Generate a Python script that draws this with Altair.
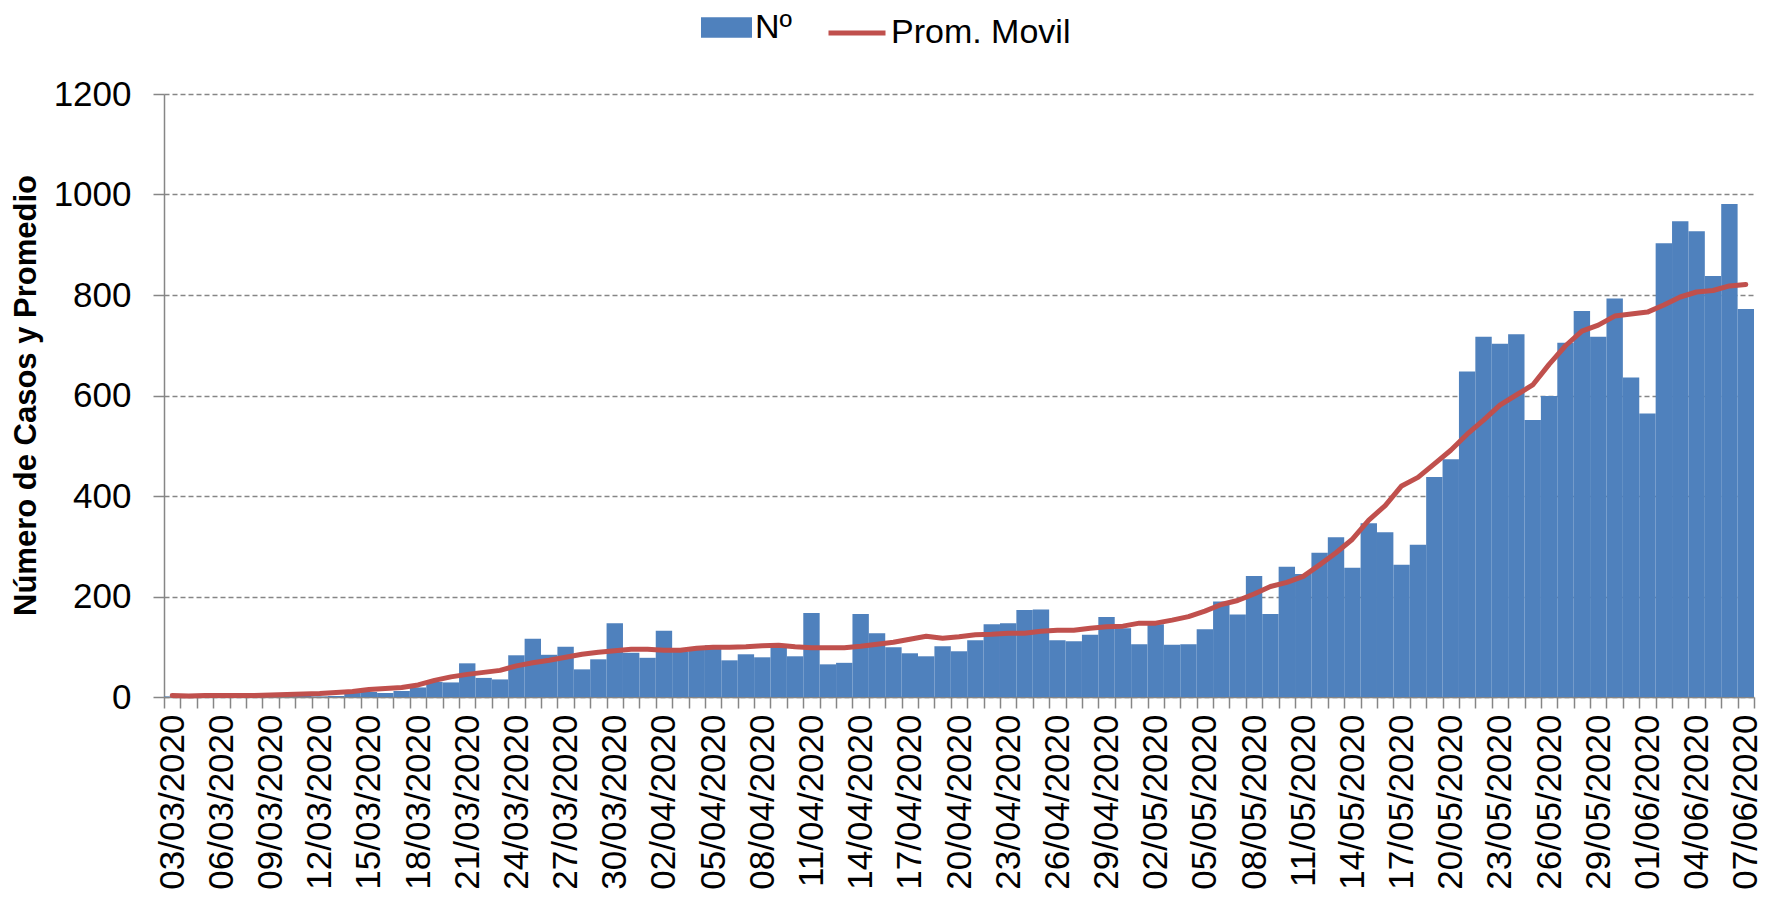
import json
import altair as alt
import pandas as pd

# ---- data ----
fechas = [d.strftime("%d/%m/%Y") for d in pd.date_range("2020-03-03", "2020-06-07", freq="D")]

casos = [1, 0, 0, 2, 0, 1, 1, 2, 3, 1,
         2, 8, 10, 8, 12, 19, 30, 29, 67, 38,
         35, 83, 116, 84, 100, 55, 75, 147, 88, 78,
         132, 90, 95, 103, 73, 85, 79, 103, 81, 167,
         65, 68, 165, 127, 99, 87, 81, 101, 91, 113,
         145, 147, 173, 174, 113, 111, 124, 159, 137, 105,
         145, 104, 105, 135, 190, 164, 241, 165, 259, 245,
         287, 318, 257, 346, 328, 263, 303, 438, 473, 648,
         717, 703, 722, 551, 599, 705, 768, 717, 793, 636,
         564, 903, 947, 927, 838, 981, 772]

prom_movil = [3, 2, 3, 3, 3, 3, 4, 5, 6, 7,
              9, 11, 15, 17, 19, 24, 33, 40, 45, 49,
              53, 62, 68, 73, 79, 85, 89, 92, 95, 95,
              93, 93, 97, 99, 99, 100, 102, 103, 100, 98,
              98, 98, 101, 105, 109, 115, 121, 117, 120, 124,
              125, 127, 127, 131, 133, 133, 137, 140, 141, 147,
              147, 153, 160, 171, 184, 192, 205, 220, 228, 240,
              263, 287, 314, 352, 381, 420, 437, 464, 491, 523,
              551, 581, 601, 621, 662, 699, 728, 740, 758, 762,
              766, 780, 796, 806, 809, 818, 821]

etiquetas_x = fechas[::3]
y_ticks = [0, 200, 400, 600, 800, 1000, 1200]
serie_barras = "Nº"
serie_linea = "Prom. Movil"
color_barras = "#4F81BD"
color_linea = "#C0504D"

df = pd.DataFrame({"fecha": fechas, "casos": casos, "prom": prom_movil})

FONT = "Liberation Sans"
GRAY = "#868686"

label_expr = "indexof(" + json.dumps(etiquetas_x) + ", datum.value) >= 0 ? datum.label : ''"

x_enc = alt.X(
    "fecha:N",
    sort=None,
    scale=alt.Scale(paddingInner=0, paddingOuter=0),
    axis=alt.Axis(
        title=None,
        labelAngle=270,
        labelExpr=label_expr,
        labelOverlap=False,
        labelFont=FONT,
        labelFontSize=35,
        labelColor="black",
        labelPadding=6,
        labelLimit=400,
        tickBand="extent",
        tickSize=11,
        tickColor=GRAY,
        tickWidth=1.5,
        domainColor=GRAY,
        domainWidth=1.5,
        grid=False,
    ),
)

y_scale = alt.Scale(domain=[0, 1200], nice=False)
y_axis = alt.Axis(
    title="Número de Casos y Promedio",
    values=y_ticks,
    format="d",
    labelFont=FONT,
    labelFontSize=35,
    labelColor="black",
    labelPadding=22,
    tickSize=11,
    tickColor=GRAY,
    tickWidth=1.5,
    domainColor=GRAY,
    domainWidth=1.5,
    grid=True,
    gridColor=GRAY,
    gridDash=[5, 3],
    gridWidth=1.5,
    titleFont=FONT,
    titleFontSize=31,
    titleFontWeight="bold",
    titleColor="black",
    titleAngle=270,
    titleX=-122,
    titleY=301,
    titleAlign="center",
    titleBaseline="bottom",
    titleLimit=800,
)

legend_common = dict(
    title=None,
    orient="none",
    direction="horizontal",
    labelFont=FONT,
    labelFontSize=34,
    labelColor="black",
    labelOffset=3,
    labelLimit=400,
)

legend_bar = alt.Legend(
    legendX=537,
    legendY=-92,
    symbolType="M-1,-0.4H1V0.4H-1Z",
    symbolSize=2600,
    symbolStrokeWidth=0,
    symbolOpacity=1,
    **legend_common,
)

legend_line = alt.Legend(
    legendX=662,
    legendY=-92,
    symbolType="stroke",
    symbolSize=3249,
    symbolStrokeWidth=5,
    symbolOpacity=1,
    **legend_common,
)

base = alt.Chart(df).encode(x=x_enc)

bars = base.transform_calculate(serie="'Nº'").mark_bar(opacity=1).encode(
    y=alt.Y("casos:Q", scale=y_scale, axis=y_axis),
    fill=alt.Fill("serie:N", scale=alt.Scale(domain=[serie_barras], range=[color_barras]), legend=legend_bar),
)

line = base.transform_calculate(serie="'Prom. Movil'").mark_line(
    strokeWidth=5, strokeCap="round", strokeJoin="round"
).encode(
    y=alt.Y("prom:Q", scale=y_scale),
    stroke=alt.Stroke("serie:N", scale=alt.Scale(domain=[serie_linea], range=[color_linea]), legend=legend_line),
)

chart = (
    alt.layer(bars, line)
    .properties(
        width=1590,
        height=603,
        autosize=alt.AutoSizeParams(type="none"),
        padding={"left": 156, "top": 86, "right": 11, "bottom": 196},
        background="white",
    )
    .configure_view(strokeWidth=0)
)

chart.save("out.html", embed_options={"renderer": "svg", "actions": False})
